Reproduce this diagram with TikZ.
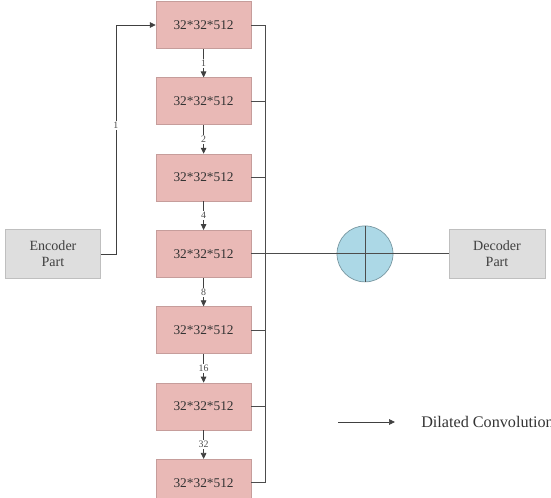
\documentclass[tikz,border=0pt]{standalone}
\usepackage{fontspec}
\setmainfont{Liberation Serif}
\usetikzlibrary{positioning,arrows.meta}
\definecolor{featpink}{RGB}{233,185,182}
\definecolor{partgrey}{RGB}{222,222,222}
\definecolor{sumblue}{RGB}{172,216,230}

\begin{document}
\begin{tikzpicture}[
  feat/.style={draw=featpink!85!black, fill=featpink, minimum width=23.75mm,
               minimum height=11.75mm, line width=0.5pt,
               font=\rmfamily\fontsize{9.5}{11}\selectfont, text=black!80},
  part/.style={draw=black!25, fill=partgrey, align=center, minimum width=23.75mm,
               minimum height=12.25mm, line width=0.5pt,
               font=\rmfamily\fontsize{10}{11}\selectfont, text=black!75},
  conv/.style={-{Triangle[length=1.5mm,width=1.4mm]}, line width=0.5pt, black!75},
  rate/.style={font=\rmfamily\fontsize{7}{8}\selectfont, fill=white, inner sep=0.8pt, text=black!70},
  bus/.style={line width=0.6pt, black!70},
  node distance=7.15mm,
]
  \useasboundingbox (0,0) rectangle (137.75mm,-124.5mm);

  % dilated feature maps
  \node[feat] (f1) at (50.9mm,-6.25mm) {32*32*512};
  \node[feat, below=of f1] (f2) {32*32*512};
  \node[feat, below=of f2] (f3) {32*32*512};
  \node[feat, below=of f3] (f4) {32*32*512};
  \node[feat, below=of f4] (f5) {32*32*512};
  \node[feat, below=of f5] (f6) {32*32*512};
  \node[feat, below=of f6] (f7) {32*32*512};

  \draw[conv] (f1) -- node[rate] {1} (f2);
  \draw[conv] (f2) -- node[rate] {2} (f3);
  \draw[conv] (f3) -- node[rate] {4} (f4);
  \draw[conv] (f4) -- node[rate] {8} (f5);
  \draw[conv] (f5) -- node[rate] {16} (f6);
  \draw[conv] (f6) -- node[rate] {32} (f7);

  % sum bus on the right
  \draw[bus] (f1.east) -- ++(3.5mm,0) coordinate (bt) -- (bt |- f7.east) -- (f7.east);
  \draw[bus] (f2.east) -- (f2.east -| bt);
  \draw[bus] (f3.east) -- (f3.east -| bt);
  \draw[bus] (f5.east) -- (f5.east -| bt);
  \draw[bus] (f6.east) -- (f6.east -| bt);

  % encoder, sum and decoder
  \node[part] (enc) at ({13.25mm,0} |- f4) {Encoder\\Part};
  \node[part, minimum width=24mm] (dec) at ({124.25mm,0} |- f4) {Decoder\\Part};
  \node[circle, draw=sumblue!70!black, fill=sumblue, minimum size=14mm,
        inner sep=0pt, line width=0.5pt] (sum) at ({91.25mm,0} |- f4) {};

  \draw[bus] (sum.north) -- (sum.south);
  \draw[bus] (f4.east) -- (dec.west);

  \draw[conv] (enc.east) -- ++(3.75mm,0) coordinate (ec)
    -- node[rate, pos=0.56] {1} (ec |- f1.west) -- (f1.west);

  % legend
  \coordinate (lg) at (84.5mm,-105.5mm);
  \draw[conv] (lg) -- ++(14.25mm,0) coordinate (lgend);
  \node[anchor=west, right=6.5mm of lgend, inner sep=0pt,
        font=\rmfamily\fontsize{11.5}{13}\selectfont, text=black!80] (lgtext) {Dilated Convolution};
\end{tikzpicture}
\end{document}
